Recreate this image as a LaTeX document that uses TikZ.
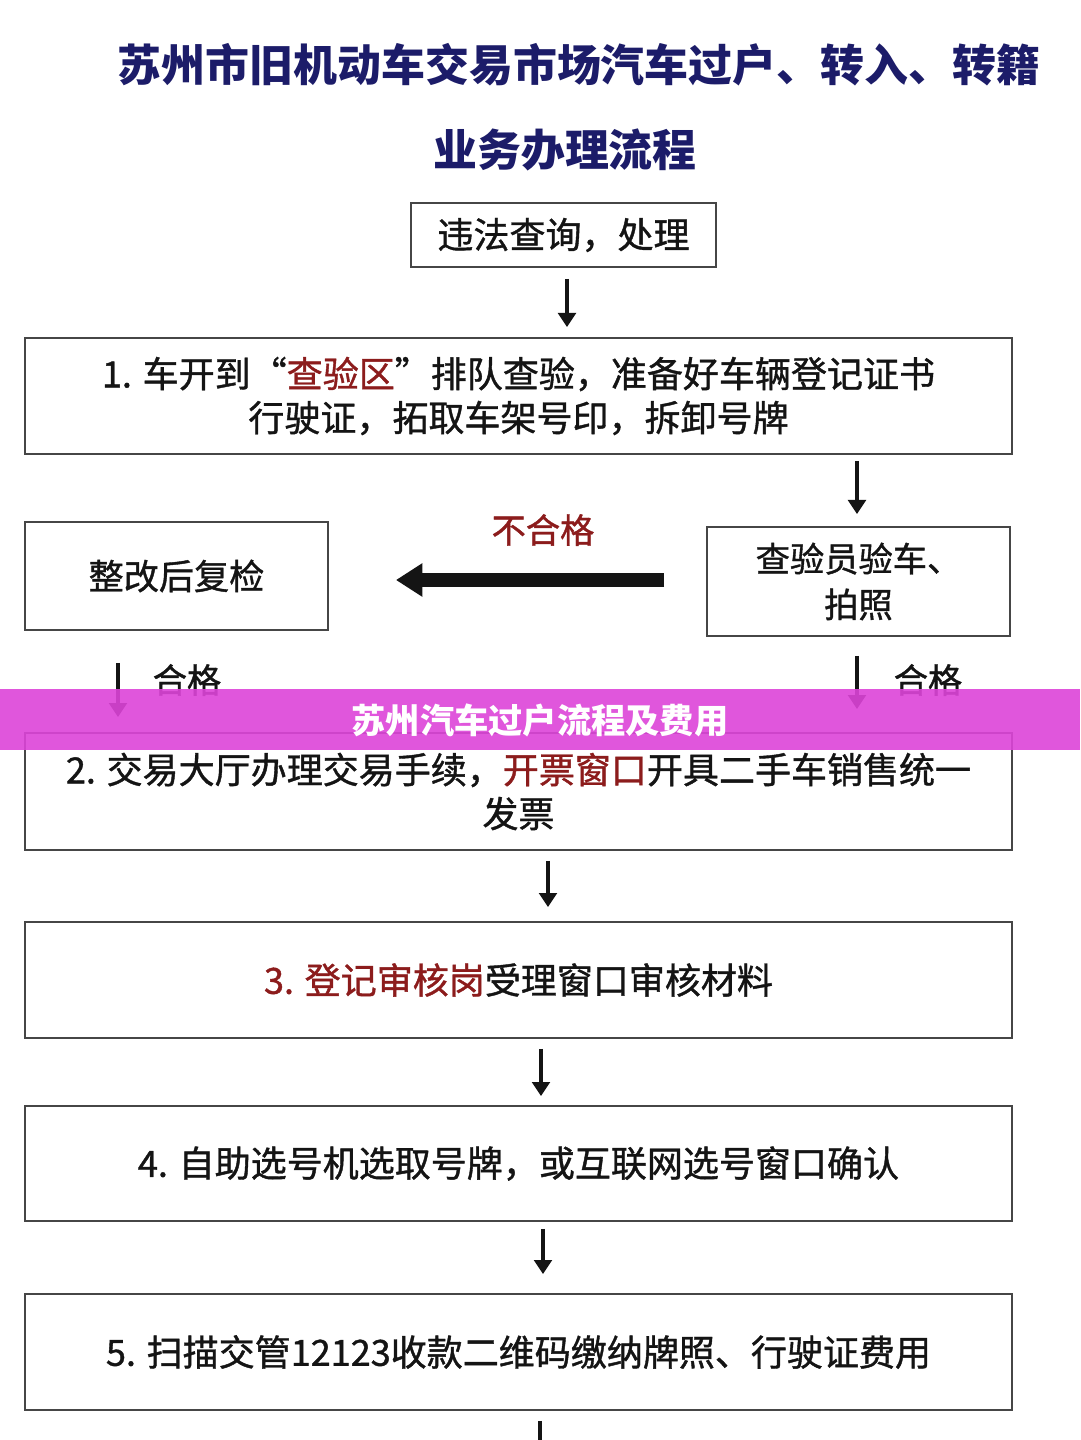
\documentclass[tikz,border=0pt]{standalone}
\usepackage{fontspec}
\usetikzlibrary{arrows.meta,calc}
\newfontfamily\cjk{Noto Sans CJK SC}
\newfontfamily\cjkm[FakeBold=1.1]{Noto Sans CJK SC}
\definecolor{navy}{RGB}{28,28,105}
\definecolor{dred}{RGB}{140,28,28}
\definecolor{boxline}{RGB}{70,70,70}
\definecolor{banner}{RGB}{221,68,217}
\definecolor{ink}{RGB}{20,20,20}
\begin{document}
\begin{tikzpicture}[x=0.02cm,y=-0.02cm,
  box/.style={draw=boxline, line width=1.1pt, inner sep=0pt, align=center,
    text=ink, font=\cjkm\fontsize{20.5}{25}\selectfont},
  arr/.style={draw=ink, line width=2.8pt, -{Triangle[width=10pt,length=8pt]}},
  bigarr/.style={draw=ink, line width=8pt, -{Triangle[width=18pt,length=15pt]}},
  lbl/.style={inner sep=0pt, font=\cjkm\fontsize{19.5}{22}\selectfont}]
\useasboundingbox (0,0) rectangle (1080,1440);
\fill[white] (0,0) rectangle (1080,1440);

% title
\node[inner sep=0pt, text=navy, font=\cjk\bfseries\fontsize{25}{28}\selectfont] (title1) at (579,65) {苏州市旧机动车交易市场汽车过户、转入、转籍};
\node[inner sep=0pt, text=navy, font=\cjk\bfseries\fontsize{25}{28}\selectfont] (title2) at (565,150) {业务办理流程};

% boxes
\node[box, minimum width=6.1cm, minimum height=1.28cm] (b0) at (563.5,235) {违法查询，处理};
\node[box, minimum width=19.74cm, minimum height=2.32cm] (b1) at (518.5,396)
  {1. 车开到“\textcolor{dred}{查验区}”排队查验，准备好车辆登记证书\\行驶证，拓取车架号印，拆卸号牌};
\node[box, minimum width=6.06cm, minimum height=2.18cm, font=\cjkm\fontsize{19.5}{26}\selectfont] (bR) at (858.5,581.5) {查验员验车、\\拍照};
\node[box, minimum width=6.06cm, minimum height=2.16cm, font=\cjkm\fontsize{20}{25}\selectfont] (bL) at (176.5,576) {整改后复检};
\node[box, minimum width=19.74cm, minimum height=2.34cm] (b2) at (518.5,791.5)
  {2. 交易大厅办理交易手续，\textcolor{dred}{开票窗口}开具二手车销售统一\\发票};
\node[box, minimum width=19.74cm, minimum height=2.32cm] (b3) at (518.5,980)
  {\textcolor{dred}{3. 登记审核岗}受理窗口审核材料};
\node[box, minimum width=19.74cm, minimum height=2.3cm] (b4) at (518.5,1163.5)
  {4. 自助选号机选取号牌，或互联网选号窗口确认};
\node[box, minimum width=19.74cm, minimum height=2.32cm] (b5) at (518.5,1352)
  {5. 扫描交管12123收款二维码缴纳牌照、行驶证费用};

% connectors
\coordinate (x0) at (567,0);
\draw[arr, shorten <=0.22cm, shorten >=0.2cm] (x0 |- b0.south) -- (x0 |- b1.north);
\coordinate (xr) at (857,0);
\draw[arr, shorten <=0.12cm, shorten >=0.24cm] (xr |- b1.south) -- (xr |- bR.north);
\coordinate (ya) at (0,580);
\draw[bigarr, shorten <=0.84cm, shorten >=1.34cm] (bR.west |- ya) -- (bL.east |- ya);
\node[lbl, text=dred] (ng) at (543,530) {不合格};
\coordinate (xl) at (118,0);
\draw[arr, shorten <=0.64cm, shorten >=0.3cm] (xl |- bL.south) -- (xl |- b2.north);
\node[lbl, text=ink] (ok1) at (187,680) {合格};
\draw[arr, shorten <=0.38cm, shorten >=0.46cm] (xr |- bR.south) -- (xr |- b2.north);
\node[lbl, text=ink] (ok2) at (928,680) {合格};
\coordinate (x23) at (548,0);
\draw[arr, shorten <=0.2cm, shorten >=0.28cm] (x23 |- b2.south) -- (x23 |- b3.north);
\coordinate (x34) at (541,0);
\draw[arr, shorten <=0.2cm, shorten >=0.18cm] (x34 |- b3.south) -- (x34 |- b4.north);
\coordinate (x45) at (543,0);
\draw[arr, shorten <=0.14cm, shorten >=0.38cm] (x45 |- b4.south) -- (x45 |- b5.north);
\coordinate (tail) at (540,1445);
\draw[draw=ink, line width=2.8pt, shorten <=0.2cm] (tail |- b5.south) -- (tail);

% banner
\fill[banner, fill opacity=0.9] (0,689) rectangle (1080,750);
\node[inner sep=0pt, text=white, font=\cjk\bfseries\fontsize{19.5}{21}\selectfont] (bannertext) at (540,720) {苏州汽车过户流程及费用};
\end{tikzpicture}
\end{document}
